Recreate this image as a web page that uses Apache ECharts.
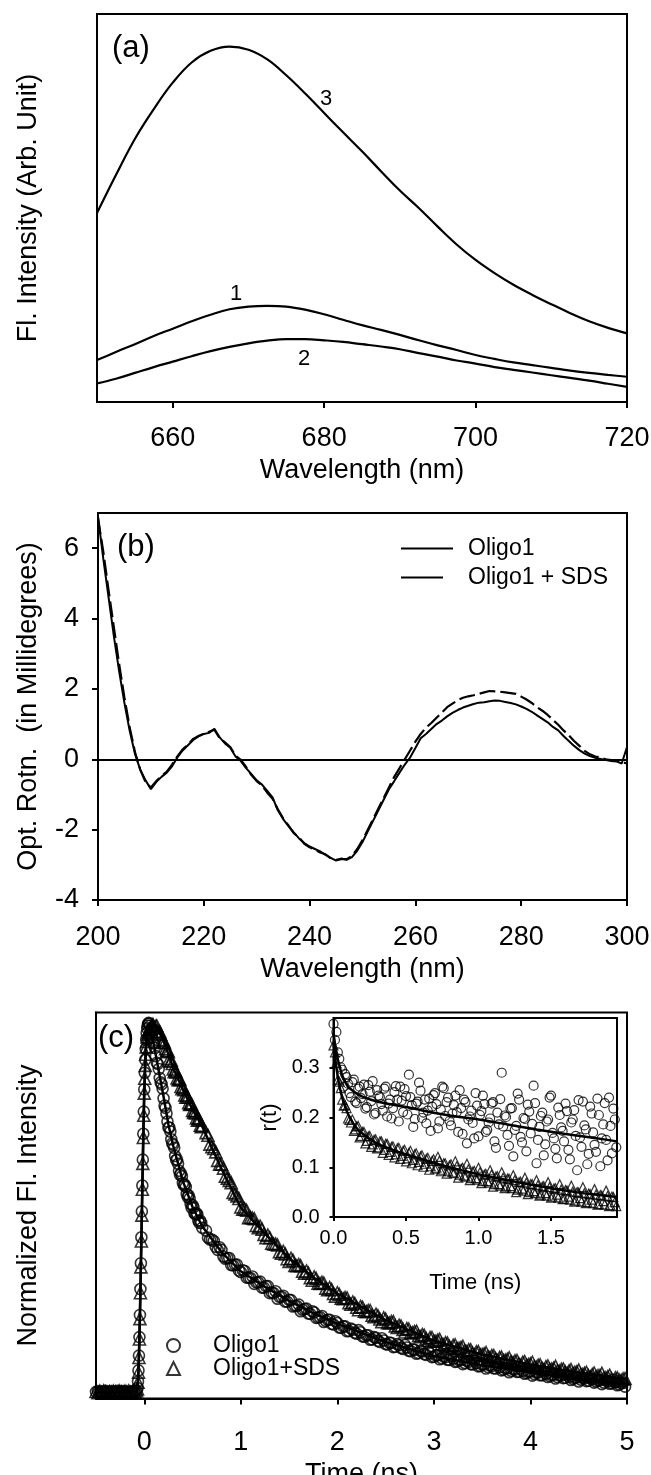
<!DOCTYPE html>
<html>
<head>
<meta charset="utf-8">
<script src="https://cdn.jsdelivr.net/npm/echarts@6/dist/echarts.min.js"></script>
<style>
  html, body { margin: 0; padding: 0; background: #fff; }
  .panel { position: absolute; left: 0; width: 651px; }
  #chartA { top: 0; height: 490px; }
  #chartB { top: 490px; height: 495px; }
  #chartC { top: 985px; height: 490px; }
</style>
</head>
<body>
<div id="chartA" class="panel"></div>
<div id="chartB" class="panel"></div>
<div id="chartC" class="panel"></div>
<script>
// ---- (a) emission spectra ----
const wavelengthA = [650, 652.5, 655, 657.5, 660, 662.5, 665, 667.5, 670, 672.5, 675, 677.5, 680, 682.5, 685,
  687.5, 690, 692.5, 695, 697.5, 700, 702.5, 705, 707.5, 710, 712.5, 715, 717.5, 720]
const spectrum1 = [10.8, 12.9, 14.9, 17.0, 18.9, 20.8, 22.5, 23.9, 24.6, 24.8, 24.6, 23.8, 22.6, 21.2, 19.8,
  18.6, 17.3, 15.9, 14.6, 13.4, 12.1, 11.1, 10.2, 9.5, 8.8, 8.1, 7.5, 7.0, 6.5]
const spectrum2 = [4.8, 6.0, 7.5, 9.0, 10.4, 11.8, 13.1, 14.2, 15.1, 15.8, 16.2, 16.2, 15.9, 15.5, 14.9,
  14.3, 13.6, 12.6, 11.7, 10.7, 9.9, 9.0, 8.3, 7.6, 6.9, 6.2, 5.5, 4.7, 3.9]
const spectrum3 = [48.7, 58.5, 67.8, 75.5, 82.3, 87.5, 90.5, 91.6, 90.8, 88.3, 84.2, 79.5, 74.5, 69.5, 64.6,
  59.5, 54.5, 50.0, 45.2, 40.6, 36.6, 33.2, 30.2, 27.6, 25.2, 22.9, 20.8, 19.1, 17.7]
const ticksA = [660, 680, 700, 720]

// ---- (b) CD spectra ----
const wavelengthB = [200, 201, 202, 203, 204, 205, 206, 207, 208, 209,
  210, 211, 212, 213, 214, 215, 216, 217, 218, 219,
  220, 221, 222, 223, 224, 225, 226, 227, 228, 229,
  230, 231, 232, 233, 234, 235, 236, 237, 238, 239,
  240, 241, 242, 243, 244, 245, 246, 247, 248, 249,
  250, 251, 252, 253, 254, 255, 256, 257, 258, 259,
  260, 261, 262, 263, 264, 265, 266, 267, 268, 269,
  270, 271, 272, 273, 274, 275, 276, 277, 278, 279,
  280, 281, 282, 283, 284, 285, 286, 287, 288, 289,
  290, 291, 292, 293, 294, 295, 296, 297, 298, 299, 300]
const cdOligo1 = [6.9, 5.7, 4.6, 3.5, 2.5, 1.6, 0.8, 0.15, -0.3, -0.6,
  -0.85, -0.65, -0.5, -0.38, -0.2, 0.05, 0.25, 0.4, 0.55, 0.65,
  0.72, 0.75, 0.87, 0.62, 0.45, 0.33, 0.08, -0.05, -0.25, -0.42,
  -0.6, -0.72, -0.9, -1.08, -1.45, -1.7, -1.9, -2.08, -2.25, -2.38,
  -2.48, -2.55, -2.62, -2.72, -2.8, -2.88, -2.82, -2.86, -2.78, -2.6,
  -2.35, -2.05, -1.75, -1.45, -1.15, -0.85, -0.62, -0.38, -0.15, 0.05,
  0.32, 0.6, 0.72, 0.86, 1.0, 1.1, 1.22, 1.32, 1.4, 1.47,
  1.52, 1.57, 1.61, 1.62, 1.65, 1.67, 1.66, 1.63, 1.6, 1.56,
  1.5, 1.43, 1.35, 1.25, 1.15, 1.05, 0.92, 0.82, 0.66, 0.52,
  0.38, 0.26, 0.16, 0.09, 0.04, 0.01, -0.02, -0.05, -0.06, -0.12, 0.35]
const cdOligo1SDS = [6.85, 5.9, 4.8, 3.75, 2.7, 1.75, 0.9, 0.2, -0.3, -0.65,
  -0.8, -0.62, -0.48, -0.35, -0.15, 0.08, 0.28, 0.42, 0.58, 0.66,
  0.73, 0.78, 0.84, 0.6, 0.48, 0.35, 0.1, -0.02, -0.22, -0.45,
  -0.62, -0.75, -0.95, -1.12, -1.42, -1.68, -1.88, -2.1, -2.22, -2.4,
  -2.5, -2.57, -2.65, -2.7, -2.82, -2.86, -2.84, -2.84, -2.75, -2.55,
  -2.3, -2.0, -1.7, -1.4, -1.1, -0.8, -0.5, -0.25, 0.0, 0.25,
  0.5, 0.72, 0.9, 1.03, 1.18, 1.33, 1.48, 1.58, 1.68, 1.75,
  1.79, 1.82, 1.86, 1.9, 1.94, 1.93, 1.92, 1.9, 1.88, 1.86,
  1.78, 1.7, 1.6, 1.48, 1.38, 1.26, 1.12, 0.98, 0.82, 0.68,
  0.52, 0.38, 0.24, 0.14, 0.08, 0.05, 0.0, -0.02, -0.05, -0.08, -0.12]
const ticksBx = [200, 220, 240, 260, 280, 300]
const ticksBy = [-4, -2, 0, 2, 4, 6]

// ---- (c) fluorescence decay, read in time segments ----
const baseTime = [-0.5, -0.48, -0.46, -0.44, -0.42, -0.4, -0.38, -0.36, -0.34, -0.32, -0.3,
  -0.28, -0.26, -0.24, -0.22, -0.2, -0.18, -0.16, -0.14, -0.12, -0.1, -0.08]
const baseOligo1 = [0.002, 0.004, 0, 0.003, 0.001, 0.005, 0.002, 0, 0.004, 0.001, 0.003,
  0.005, 0, 0.002, 0.004, 0.001, 0.003, 0, 0.002, 0.004, 0.003, 0.006]
const baseSDS = [0.003, 0, 0.004, 0.001, 0.005, 0.002, 0, 0.003, 0.001, 0.004, 0.002,
  0, 0.005, 0.003, 0.001, 0.004, 0.002, 0.005, 0.001, 0.003, 0.004, 0.005]

const riseTime = [-0.07, -0.065, -0.06, -0.055, -0.05, -0.045, -0.04, -0.035, -0.03, -0.025, -0.02, -0.015, -0.01,
  -0.005, 0, 0.005, 0.01, 0.015, 0.02, 0.025, 0.03, 0.035, 0.04, 0.045, 0.05]
const riseOligo1 = [0.012, 0.03, 0.06, 0.1, 0.15, 0.21, 0.28, 0.35, 0.42, 0.49, 0.56, 0.63, 0.7,
  0.76, 0.82, 0.865, 0.9, 0.93, 0.955, 0.972, 0.985, 0.992, 0.997, 1.0, 0.998]
const riseSDS = [0.01, 0.028, 0.055, 0.095, 0.145, 0.2, 0.27, 0.34, 0.41, 0.48, 0.55, 0.62, 0.69,
  0.75, 0.81, 0.85, 0.885, 0.915, 0.935, 0.95, 0.962, 0.97, 0.975, 0.98, 0.983]

const earlyTime = [0.06, 0.08, 0.1, 0.12, 0.14, 0.16, 0.18, 0.2, 0.22, 0.24, 0.26, 0.28, 0.3, 0.32,
  0.34, 0.36, 0.38, 0.4, 0.42, 0.44, 0.46, 0.48, 0.5, 0.52, 0.54, 0.56, 0.58, 0.6]
const earlyOligo1 = [0.992, 0.961, 0.944, 0.91, 0.889, 0.851, 0.834, 0.796, 0.77, 0.733, 0.717, 0.685, 0.67, 0.64,
  0.63, 0.6, 0.593, 0.567, 0.562, 0.537, 0.533, 0.51, 0.507, 0.485, 0.485, 0.465, 0.465, 0.446]
const earlySDS = [0.985, 0.993, 0.988, 0.991, 0.977, 0.976, 0.955, 0.952, 0.93, 0.926, 0.903, 0.899, 0.875, 0.872,
  0.851, 0.849, 0.828, 0.826, 0.805, 0.804, 0.784, 0.782, 0.763, 0.762, 0.743, 0.742, 0.723, 0.722]
const earlyTime2 = [0.07, 0.09, 0.11, 0.13, 0.15, 0.17, 0.19, 0.21, 0.23, 0.25, 0.27, 0.29, 0.31, 0.33,
  0.35, 0.37, 0.39, 0.41, 0.43, 0.45, 0.47, 0.49, 0.51, 0.53, 0.55, 0.57, 0.59]
const earlyOligo1b = [0.985, 0.946, 0.932, 0.892, 0.875, 0.839, 0.822, 0.776, 0.755, 0.717, 0.706, 0.674, 0.662, 0.629,
  0.619, 0.589, 0.585, 0.561, 0.556, 0.529, 0.525, 0.5, 0.501, 0.482, 0.482, 0.459, 0.459]
const earlySDSb = [0.982, 0.996, 0.986, 0.992, 0.972, 0.969, 0.948, 0.946, 0.924, 0.922, 0.896, 0.89, 0.868, 0.867,
  0.846, 0.846, 0.822, 0.819, 0.799, 0.799, 0.779, 0.78, 0.758, 0.756, 0.737, 0.738, 0.719]

const lateTime = [0.64, 0.68, 0.72, 0.76, 0.8, 0.84, 0.88, 0.92, 0.96,
  1, 1.04, 1.08, 1.12, 1.16, 1.2, 1.24, 1.28, 1.32, 1.36, 1.4, 1.44, 1.48, 1.52, 1.56, 1.6, 1.64, 1.68, 1.72, 1.76, 1.8, 1.84, 1.88, 1.92, 1.96,
  2, 2.04, 2.08, 2.12, 2.16, 2.2, 2.24, 2.28, 2.32, 2.36, 2.4, 2.44, 2.48, 2.52, 2.56, 2.6, 2.64, 2.68, 2.72, 2.76, 2.8, 2.84, 2.88, 2.92, 2.96,
  3, 3.04, 3.08, 3.12, 3.16, 3.2, 3.24, 3.28, 3.32, 3.36, 3.4, 3.44, 3.48, 3.52, 3.56, 3.6, 3.64, 3.68, 3.72, 3.76, 3.8, 3.84, 3.88, 3.92, 3.96,
  4, 4.04, 4.08, 4.12, 4.16, 4.2, 4.24, 4.28, 4.32, 4.36, 4.4, 4.44, 4.48, 4.52, 4.56, 4.6, 4.64, 4.68, 4.72, 4.76, 4.8, 4.84, 4.88, 4.92, 4.96]
const lateOligo1 = [0.438, 0.414, 0.41, 0.386, 0.386, 0.362, 0.364, 0.344, 0.346,
  0.326, 0.329, 0.311, 0.314, 0.298, 0.3, 0.284, 0.288, 0.271, 0.274, 0.259, 0.262, 0.246, 0.25, 0.235, 0.238, 0.224, 0.227, 0.213, 0.217, 0.203, 0.207, 0.194, 0.197, 0.184,
  0.188, 0.175, 0.179, 0.167, 0.17, 0.159, 0.163, 0.151, 0.155, 0.144, 0.148, 0.137, 0.141, 0.13, 0.134, 0.124, 0.128, 0.118, 0.122, 0.112, 0.116, 0.107, 0.111, 0.102, 0.106,
  0.097, 0.101, 0.093, 0.096, 0.088, 0.092, 0.084, 0.088, 0.08, 0.083, 0.076, 0.08, 0.072, 0.076, 0.069, 0.072, 0.065, 0.069, 0.062, 0.066, 0.059, 0.062, 0.056, 0.059, 0.053,
  0.057, 0.05, 0.054, 0.047, 0.051, 0.045, 0.048, 0.042, 0.046, 0.04, 0.043, 0.037, 0.041, 0.035, 0.038, 0.032, 0.036, 0.03, 0.033, 0.027, 0.031, 0.025, 0.028, 0.022, 0.026]
const lateSDS = [0.703, 0.672, 0.66, 0.628, 0.618, 0.585, 0.574, 0.541, 0.532,
  0.502, 0.497, 0.473, 0.472, 0.452, 0.45, 0.428, 0.426, 0.404, 0.402, 0.381, 0.382, 0.362, 0.363, 0.344, 0.346, 0.328, 0.329, 0.311, 0.313, 0.296, 0.298, 0.282, 0.284, 0.268,
  0.27, 0.255, 0.257, 0.243, 0.245, 0.231, 0.233, 0.22, 0.222, 0.209, 0.212, 0.199, 0.202, 0.189, 0.192, 0.18, 0.182, 0.171, 0.173, 0.162, 0.165, 0.154, 0.157, 0.146, 0.149,
  0.139, 0.142, 0.132, 0.135, 0.125, 0.128, 0.119, 0.122, 0.113, 0.116, 0.107, 0.11, 0.102, 0.105, 0.097, 0.1, 0.092, 0.095, 0.087, 0.09, 0.083, 0.086, 0.078, 0.082, 0.074,
  0.078, 0.07, 0.074, 0.066, 0.07, 0.063, 0.066, 0.059, 0.063, 0.056, 0.059, 0.052, 0.056, 0.049, 0.052, 0.046, 0.049, 0.043, 0.046, 0.04, 0.043, 0.037, 0.04, 0.034, 0.037]
const lateTime2 = [0.66, 0.7, 0.74, 0.78, 0.82, 0.86, 0.9, 0.94, 0.98,
  1.02, 1.06, 1.1, 1.14, 1.18, 1.22, 1.26, 1.3, 1.34, 1.38, 1.42, 1.46, 1.5, 1.54, 1.58, 1.62, 1.66, 1.7, 1.74, 1.78, 1.82, 1.86, 1.9, 1.94, 1.98,
  2.02, 2.06, 2.1, 2.14, 2.18, 2.22, 2.26, 2.3, 2.34, 2.38, 2.42, 2.46, 2.5, 2.54, 2.58, 2.62, 2.66, 2.7, 2.74, 2.78, 2.82, 2.86, 2.9, 2.94, 2.98,
  3.02, 3.06, 3.1, 3.14, 3.18, 3.22, 3.26, 3.3, 3.34, 3.38, 3.42, 3.46, 3.5, 3.54, 3.58, 3.62, 3.66, 3.7, 3.74, 3.78, 3.82, 3.86, 3.9, 3.94, 3.98,
  4.02, 4.06, 4.1, 4.14, 4.18, 4.22, 4.26, 4.3, 4.34, 4.38, 4.42, 4.46, 4.5, 4.54, 4.58, 4.62, 4.66, 4.7, 4.74, 4.78, 4.82, 4.86, 4.9, 4.94, 4.98]
const lateOligo1b = [0.419, 0.414, 0.394, 0.393, 0.368, 0.364, 0.345, 0.346, 0.33,
  0.331, 0.311, 0.31, 0.294, 0.298, 0.284, 0.288, 0.269, 0.269, 0.254, 0.259, 0.246, 0.251, 0.233, 0.234, 0.22, 0.226, 0.214, 0.22, 0.202, 0.204, 0.191, 0.197, 0.186, 0.193,
  0.176, 0.179, 0.166, 0.173, 0.162, 0.169, 0.152, 0.155, 0.143, 0.15, 0.14, 0.147, 0.131, 0.135, 0.123, 0.131, 0.121, 0.129, 0.113, 0.117, 0.105, 0.113, 0.104, 0.112, 0.096,
  0.101, 0.09, 0.098, 0.089, 0.098, 0.083, 0.088, 0.077, 0.086, 0.077, 0.086, 0.071, 0.076, 0.065, 0.074, 0.066, 0.075, 0.06, 0.066, 0.055, 0.064, 0.056, 0.065, 0.051, 0.056,
  0.046, 0.055, 0.047, 0.057, 0.042, 0.048, 0.038, 0.047, 0.039, 0.049, 0.034, 0.04, 0.03, 0.04, 0.031, 0.041, 0.027, 0.033, 0.023, 0.033, 0.024, 0.034, 0.02, 0.026, 0.016]
const lateSDSb = [0.696, 0.665, 0.651, 0.618, 0.607, 0.58, 0.568, 0.537, 0.525,
  0.496, 0.493, 0.474, 0.47, 0.446, 0.442, 0.419, 0.419, 0.402, 0.399, 0.377, 0.375, 0.355, 0.358, 0.343, 0.343, 0.323, 0.323, 0.304, 0.309, 0.295, 0.296, 0.278, 0.279, 0.261,
  0.266, 0.254, 0.256, 0.239, 0.241, 0.224, 0.231, 0.219, 0.222, 0.205, 0.208, 0.192, 0.199, 0.188, 0.192, 0.176, 0.18, 0.164, 0.172, 0.162, 0.166, 0.151, 0.155, 0.14, 0.149,
  0.139, 0.144, 0.129, 0.134, 0.12, 0.129, 0.12, 0.125, 0.111, 0.116, 0.102, 0.111, 0.103, 0.108, 0.095, 0.1, 0.087, 0.096, 0.088, 0.094, 0.081, 0.087, 0.074, 0.084, 0.076,
  0.082, 0.069, 0.075, 0.062, 0.072, 0.064, 0.071, 0.058, 0.064, 0.052, 0.062, 0.055, 0.061, 0.049, 0.055, 0.043, 0.053, 0.046, 0.052, 0.04, 0.047, 0.032, 0.04, 0.033, 0.038]

const fitTime = [-0.5, -0.08, -0.07, -0.06, -0.05, -0.04, -0.03, -0.02, -0.01, 0, 0.01, 0.02, 0.03, 0.04, 0.05, 0.06,
  0.1, 0.15, 0.2, 0.25, 0.3, 0.4, 0.5, 0.6, 0.8, 1, 1.25, 1.5, 1.75, 2, 2.5, 3, 3.5, 4, 4.5, 5]
const fitOligo1 = [0, 0.002, 0.012, 0.06, 0.15, 0.28, 0.42, 0.56, 0.7, 0.82, 0.9, 0.955, 0.985, 0.997, 1.0, 0.99,
  0.94, 0.87, 0.8, 0.725, 0.667, 0.572, 0.502, 0.45, 0.38, 0.328, 0.286, 0.248, 0.215, 0.186, 0.137, 0.099, 0.074, 0.055, 0.039, 0.024]
const fitSDS = [0, 0.002, 0.01, 0.055, 0.145, 0.27, 0.41, 0.55, 0.69, 0.81, 0.885, 0.935, 0.962, 0.975, 0.98, 0.985,
  0.991, 0.978, 0.95, 0.915, 0.877, 0.82, 0.765, 0.72, 0.605, 0.5, 0.43, 0.364, 0.312, 0.268, 0.196, 0.14, 0.103, 0.076, 0.054, 0.036]
const ticksCx = [0, 1, 2, 3, 4, 5]

// inset: anisotropy r(t), two interleaved time grids
const insetTime = [0, 0.02, 0.04, 0.06, 0.08, 0.1, 0.12, 0.14, 0.16, 0.18,
  0.2, 0.22, 0.24, 0.26, 0.28, 0.3, 0.32, 0.34, 0.36, 0.38,
  0.4, 0.42, 0.44, 0.46, 0.48, 0.5, 0.52, 0.54, 0.56, 0.58,
  0.6, 0.62, 0.64, 0.66, 0.68, 0.7, 0.72, 0.74, 0.76, 0.78,
  0.8, 0.82, 0.84, 0.86, 0.88, 0.9, 0.92, 0.94, 0.96, 0.98,
  1, 1.02, 1.04, 1.06, 1.08, 1.1, 1.12, 1.14, 1.16, 1.18,
  1.2, 1.22, 1.24, 1.26, 1.28, 1.3, 1.32, 1.34, 1.36, 1.38,
  1.4, 1.42, 1.44, 1.46, 1.48, 1.5, 1.52, 1.54, 1.56, 1.58,
  1.6, 1.62, 1.64, 1.66, 1.68, 1.7, 1.72, 1.74, 1.76, 1.78,
  1.8, 1.82, 1.84, 1.86, 1.88, 1.9, 1.92, 1.94]
const insetOligo1 = [0.388, 0.372, 0.318, 0.296, 0.287, 0.268, 0.241, 0.276, 0.229, 0.262,
  0.247, 0.218, 0.265, 0.233, 0.206, 0.255, 0.241, 0.214, 0.262, 0.228,
  0.198, 0.251, 0.236, 0.262, 0.211, 0.243, 0.286, 0.225, 0.197, 0.232,
  0.254, 0.21, 0.188, 0.238, 0.222, 0.249, 0.178, 0.216, 0.259, 0.231,
  0.193, 0.208, 0.244, 0.171, 0.219, 0.236, 0.148, 0.202, 0.189, 0.249,
  0.162, 0.213, 0.227, 0.175, 0.198, 0.231, 0.139, 0.186, 0.29, 0.204,
  0.165, 0.218, 0.122, 0.183, 0.236, 0.15, 0.197, 0.226, 0.168, 0.264,
  0.108, 0.181, 0.21, 0.146, 0.196, 0.244, 0.158, 0.118, 0.205, 0.173,
  0.228, 0.135, 0.19, 0.215, 0.094, 0.16, 0.232, 0.176, 0.127, 0.208,
  0.145, 0.238, 0.102, 0.186, 0.155, 0.24, 0.128, 0.196]
const insetSDS = [0.345, 0.31, 0.272, 0.236, 0.225, 0.198, 0.19, 0.173, 0.182, 0.16,
  0.171, 0.148, 0.162, 0.141, 0.155, 0.138, 0.152, 0.129, 0.147, 0.125,
  0.141, 0.12, 0.138, 0.117, 0.133, 0.112, 0.129, 0.108, 0.126, 0.104,
  0.122, 0.101, 0.117, 0.095, 0.113, 0.097, 0.121, 0.092, 0.108, 0.087,
  0.104, 0.09, 0.112, 0.079, 0.097, 0.083, 0.107, 0.074, 0.091, 0.078,
  0.099, 0.068, 0.085, 0.072, 0.094, 0.061, 0.081, 0.066, 0.09, 0.058,
  0.077, 0.062, 0.084, 0.05, 0.07, 0.057, 0.079, 0.046, 0.066, 0.052,
  0.074, 0.043, 0.061, 0.048, 0.07, 0.039, 0.057, 0.045, 0.066, 0.036,
  0.054, 0.041, 0.063, 0.031, 0.05, 0.038, 0.06, 0.028, 0.047, 0.035,
  0.056, 0.025, 0.044, 0.032, 0.053, 0.022, 0.041, 0.03]
const insetTime2 = [0.01, 0.03, 0.05, 0.07, 0.09, 0.11, 0.13, 0.15, 0.17, 0.19,
  0.21, 0.23, 0.25, 0.27, 0.29, 0.31, 0.33, 0.35, 0.37, 0.39,
  0.41, 0.43, 0.45, 0.47, 0.49, 0.51, 0.53, 0.55, 0.57, 0.59,
  0.61, 0.63, 0.65, 0.67, 0.69, 0.71, 0.73, 0.75, 0.77, 0.79,
  0.81, 0.83, 0.85, 0.87, 0.89, 0.91, 0.93, 0.95, 0.97, 0.99,
  1.01, 1.03, 1.05, 1.07, 1.09, 1.11, 1.13, 1.15, 1.17, 1.19,
  1.21, 1.23, 1.25, 1.27, 1.29, 1.31, 1.33, 1.35, 1.37, 1.39,
  1.41, 1.43, 1.45, 1.47, 1.49, 1.51, 1.53, 1.55, 1.57, 1.59,
  1.61, 1.63, 1.65, 1.67, 1.69, 1.71, 1.73, 1.75, 1.77, 1.79,
  1.81, 1.83, 1.85, 1.87, 1.89, 1.91, 1.93, 1.95]
const insetOligo1b = [0.356, 0.331, 0.301, 0.262, 0.281, 0.249, 0.271, 0.232, 0.258, 0.239,
  0.266, 0.221, 0.252, 0.273, 0.209, 0.244, 0.227, 0.258, 0.202, 0.236,
  0.219, 0.263, 0.192, 0.234, 0.257, 0.206, 0.241, 0.181, 0.228, 0.27,
  0.199, 0.236, 0.214, 0.173, 0.245, 0.227, 0.192, 0.262, 0.203, 0.24,
  0.184, 0.225, 0.211, 0.255, 0.167, 0.231, 0.196, 0.214, 0.158, 0.224,
  0.205, 0.244, 0.171, 0.19, 0.228, 0.152, 0.21, 0.237, 0.182, 0.201,
  0.143, 0.219, 0.175, 0.248, 0.161, 0.199, 0.132, 0.212, 0.187, 0.229,
  0.155, 0.203, 0.124, 0.192, 0.24, 0.169, 0.137, 0.22, 0.18, 0.152,
  0.213, 0.116, 0.196, 0.163, 0.235, 0.141, 0.184, 0.106, 0.222, 0.17,
  0.131, 0.205, 0.158, 0.229, 0.114, 0.183, 0.218, 0.14]
const insetSDSb = [0.331, 0.276, 0.259, 0.224, 0.219, 0.195, 0.196, 0.176, 0.183, 0.163,
  0.171, 0.153, 0.163, 0.146, 0.156, 0.14, 0.152, 0.135, 0.147, 0.131,
  0.142, 0.126, 0.139, 0.123, 0.135, 0.118, 0.133, 0.115, 0.128, 0.111,
  0.124, 0.107, 0.119, 0.102, 0.116, 0.099, 0.113, 0.095, 0.108, 0.092,
  0.106, 0.088, 0.102, 0.085, 0.099, 0.081, 0.096, 0.078, 0.093, 0.075,
  0.09, 0.072, 0.087, 0.069, 0.085, 0.066, 0.082, 0.063, 0.079, 0.061,
  0.077, 0.058, 0.074, 0.055, 0.071, 0.053, 0.069, 0.05, 0.066, 0.048,
  0.064, 0.045, 0.062, 0.043, 0.06, 0.041, 0.058, 0.039, 0.055, 0.037,
  0.053, 0.035, 0.051, 0.033, 0.049, 0.031, 0.048, 0.03, 0.046, 0.028,
  0.045, 0.026, 0.043, 0.025, 0.042, 0.024, 0.04, 0.022]
const insetFitTime = [0, 0.02, 0.04, 0.06, 0.08, 0.1, 0.15, 0.2, 0.3, 0.4, 0.5, 0.6, 0.7, 0.8, 0.9, 1, 1.2, 1.4, 1.6, 1.8, 1.955]
const insetFitOligo1 = [0.37, 0.33, 0.305, 0.285, 0.272, 0.262, 0.25, 0.242, 0.232, 0.226, 0.221, 0.215, 0.209, 0.204, 0.2, 0.196, 0.186, 0.176, 0.167, 0.159, 0.152]
const insetFitSDS = [0.35, 0.3, 0.265, 0.24, 0.222, 0.207, 0.182, 0.168, 0.148, 0.136, 0.126, 0.117, 0.108, 0.1, 0.093, 0.086, 0.074, 0.063, 0.053, 0.045, 0.04]
const ticksInsetX = [0, 0.5, 1, 1.5]
const ticksInsetY = [0, 0.1, 0.2, 0.3]

const FONT = "'Liberation Sans', Arial, Helvetica, sans-serif"
const zip = (xs, ys) => xs.map((x, i) => [x, ys[i]])

function makeAxis(o) {
  const hasTicks = !!o.ticks
  return {
    type: "value", gridIndex: o.grid || 0, min: o.min, max: o.max,
    name: o.name, nameLocation: "middle", nameGap: o.nameGap,
    nameTextStyle: { color: "#000", fontSize: o.nameSize || 27, fontFamily: FONT },
    axisLine: { show: true, onZero: false, lineStyle: { color: "#000", width: 2 } },
    axisTick: { show: hasTicks, inside: false, length: o.tickLen || 6, customValues: o.ticks, lineStyle: { color: "#000", width: 2 } },
    axisLabel: { show: hasTicks, customValues: o.ticks, margin: o.margin, color: "#000", fontSize: o.labelSize || 27, fontFamily: FONT, formatter: o.fmt },
    splitLine: { show: false }
  }
}

function frame(box) {
  return Object.assign({ show: true, borderColor: "#000", borderWidth: 2, backgroundColor: "transparent", containLabel: false, outerBoundsMode: "none" }, box)
}

function text(str, x, y, size, align) {
  return { type: "text", x: x, y: y, z: 10, style: { text: str, fill: "#000", fontSize: size, fontFamily: FONT, align: align || "center", verticalAlign: "middle" } }
}

function line(name, data, extra) {
  return Object.assign({
    name: name, type: "line", data: data, showSymbol: false, symbol: "none",
    lineStyle: { color: "#000", width: 2 }, itemStyle: { color: "#000" }, z: 3
  }, extra)
}

const fixed1 = (v) => v.toFixed(1)

// ---------- panel (a) ----------
const chartA = echarts.init(document.getElementById("chartA"))
chartA.setOption({
  animation: false,
  grid: frame({ left: 97, top: 14, width: 530, height: 388 }),
  xAxis: makeAxis({ min: 650, max: 720, ticks: ticksA, margin: 23, name: "Wavelength (nm)", nameGap: 55 }),
  yAxis: makeAxis({ min: 0, max: 100, name: "Fl. Intensity (Arb. Unit)", nameGap: 55 }),
  series: [
    line("1", zip(wavelengthA, spectrum1), { smooth: 0.4, lineStyle: { color: "#000", width: 2.2 } }),
    line("2", zip(wavelengthA, spectrum2), { smooth: 0.4, lineStyle: { color: "#000", width: 2.2 } }),
    line("3", zip(wavelengthA, spectrum3), { smooth: 0.4, lineStyle: { color: "#000", width: 2.2 } })
  ],
  graphic: [
    text("(a)", 112, 48, 31, "left"),
    text("3", 326, 99, 22),
    text("1", 236, 294, 22),
    text("2", 304, 359, 22)
  ]
})

// ---------- panel (b) ----------
const chartB = echarts.init(document.getElementById("chartB"))
chartB.setOption({
  animation: false,
  grid: frame({ left: 98, top: 23, width: 529, height: 387 }),
  xAxis: makeAxis({ min: 200, max: 300, ticks: ticksBx, margin: 24, name: "Wavelength (nm)", nameGap: 55 }),
  yAxis: makeAxis({ min: -4, max: 7, ticks: ticksBy, margin: 19, name: "Opt. Rotn.  (in Millidegrees)", nameGap: 56 }),
  legend: {
    data: [{ name: "Oligo1" }, { name: "Oligo1 + SDS", lineStyle: { type: [42, 20] } }],
    orient: "vertical", left: 400, top: 47, padding: 0, itemWidth: 52, itemHeight: 12, itemGap: 6,
    selectedMode: false, itemStyle: { opacity: 0 },
    textStyle: { color: "#000", fontSize: 23, fontFamily: FONT, padding: [0, 0, 0, 10] }
  },
  series: [
    line("Oligo1", zip(wavelengthB, cdOligo1), {
      markLine: {
        silent: true, symbol: ["none", "none"], label: { show: false },
        lineStyle: { color: "#000", width: 2, type: "solid" },
        data: [{ yAxis: 0 }]
      }
    }),
    line("Oligo1 + SDS", zip(wavelengthB, cdOligo1SDS), { lineStyle: { color: "#000", width: 2.2, type: [16, 5] } })
  ],
  graphic: [text("(b)", 117, 57, 31, "left")]
})

// ---------- panel (c) ----------
const hollow = { color: "rgba(255,255,255,0)", borderColor: "#000", borderWidth: 1.6 }
const hollowThin = { color: "rgba(255,255,255,0)", borderColor: "#000", borderWidth: 1.2 }
const decayOligo1 = zip(baseTime, baseOligo1).concat(zip(riseTime, riseOligo1), zip(earlyTime, earlyOligo1),
  zip(earlyTime2, earlyOligo1b), zip(lateTime, lateOligo1), zip(lateTime2, lateOligo1b))
const decaySDS = zip(baseTime, baseSDS).concat(zip(riseTime, riseSDS), zip(earlyTime, earlySDS),
  zip(earlyTime2, earlySDSb), zip(lateTime, lateSDS), zip(lateTime2, lateSDSb))
const rOligo1 = zip(insetTime, insetOligo1).concat(zip(insetTime2, insetOligo1b))
const rSDS = zip(insetTime, insetSDS).concat(zip(insetTime2, insetSDSb))

const chartC = echarts.init(document.getElementById("chartC"))
chartC.setOption({
  animation: false,
  grid: [
    frame({ left: 96, top: 27.5, width: 531, height: 386 }),
    frame({ left: 333.5, top: 33, width: 283.5, height: 199 })
  ],
  xAxis: [
    makeAxis({ min: -0.5, max: 5, ticks: ticksCx, margin: 31, name: "Time (ns)", nameGap: 55 }),
    makeAxis({ grid: 1, min: 0, max: 1.955, ticks: ticksInsetX, fmt: fixed1, margin: 11, tickLen: 4, labelSize: 20, name: "Time (ns)", nameSize: 22, nameGap: 55 })
  ],
  yAxis: [
    makeAxis({ min: -0.016, max: 1.028, name: "Normalized Fl. Intensity", nameGap: 54 }),
    makeAxis({ grid: 1, min: 0, max: 0.4, ticks: ticksInsetY, fmt: fixed1, margin: 14, tickLen: 4, labelSize: 20, name: "r(t)", nameSize: 22, nameGap: 53 })
  ],
  legend: {
    data: ["Oligo1", "Oligo1+SDS"],
    orient: "vertical", left: 166, top: 349, padding: 0, itemWidth: 13, itemHeight: 13, itemGap: 0,
    selectedMode: false,
    textStyle: { color: "#000", fontSize: 23, fontFamily: FONT, padding: [0, 0, 0, 28] }
  },
  series: [
    { name: "Oligo1", type: "scatter", data: decayOligo1, symbol: "circle", symbolSize: 11, itemStyle: hollow, z: 2 },
    { name: "Oligo1+SDS", type: "scatter", data: decaySDS, symbol: "triangle", symbolSize: 12, itemStyle: hollow, z: 2 },
    line("fit Oligo1", zip(fitTime, fitOligo1), { lineStyle: { color: "#000", width: 2.5 } }),
    line("fit Oligo1+SDS", zip(fitTime, fitSDS), { lineStyle: { color: "#000", width: 2.5 } }),
    { name: "r Oligo1", type: "scatter", xAxisIndex: 1, yAxisIndex: 1, data: rOligo1, symbol: "circle", symbolSize: 9, itemStyle: hollowThin, z: 2 },
    { name: "r Oligo1+SDS", type: "scatter", xAxisIndex: 1, yAxisIndex: 1, data: rSDS, symbol: "triangle", symbolSize: 9, itemStyle: hollowThin, z: 2 },
    line("r fit Oligo1", zip(insetFitTime, insetFitOligo1), { xAxisIndex: 1, yAxisIndex: 1, smooth: 0.3, lineStyle: { color: "#000", width: 2.5 } }),
    line("r fit Oligo1+SDS", zip(insetFitTime, insetFitSDS), { xAxisIndex: 1, yAxisIndex: 1, smooth: 0.3, lineStyle: { color: "#000", width: 2.5 } })
  ],
  graphic: [text("(c)", 98, 53, 31, "left")]
})
</script>
</body>
</html>
